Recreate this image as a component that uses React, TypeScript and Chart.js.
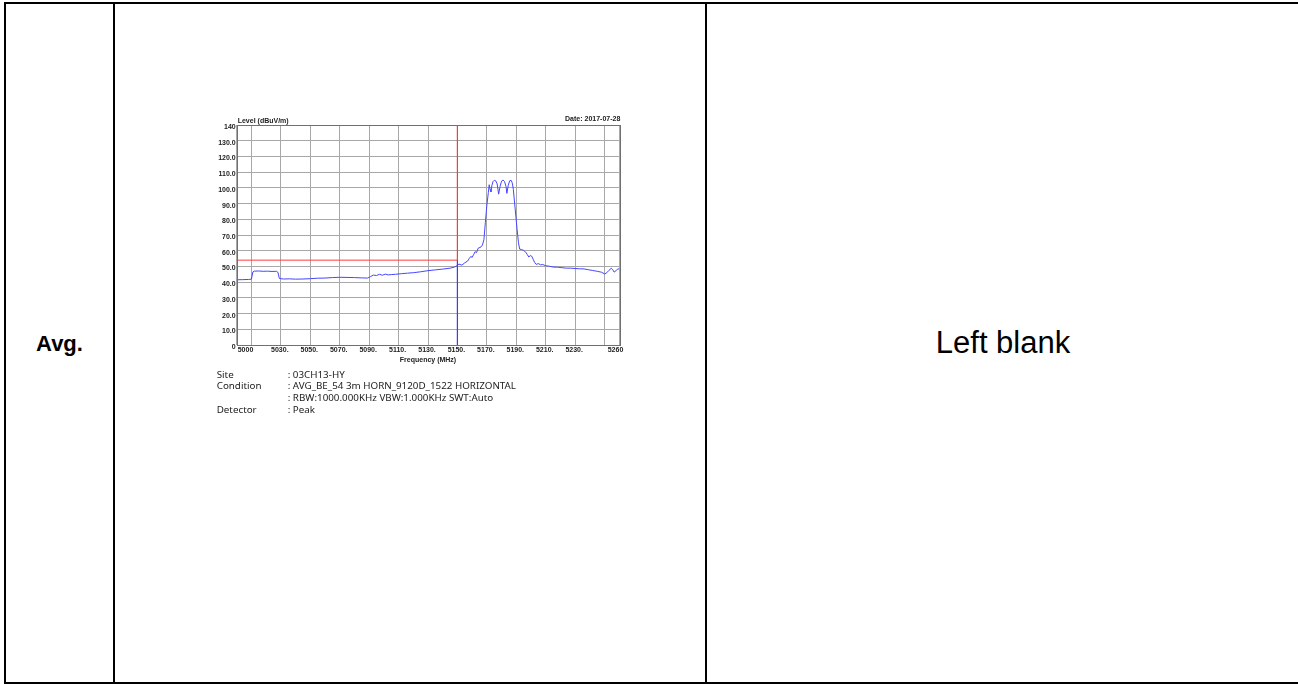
import React, { useEffect, useRef } from "react";
import { Chart, registerables } from "chart.js";

Chart.register(...registerables);

// ---- data ----
const traceFreqs = [
  5000, 5004, 5008, 5010, 5011, 5012, 5015, 5018, 5021, 5024, 5027, 5028, 5029, 5032, 5036, 5040,
  5045, 5050, 5055, 5060, 5065, 5070, 5075, 5080, 5085, 5089, 5091, 5093, 5095, 5097, 5099, 5101,
  5103, 5105, 5108, 5112, 5116, 5120, 5125, 5130, 5135, 5140, 5145, 5148, 5150, 5151, 5153, 5155,
  5157, 5158, 5159, 5160, 5161, 5162, 5163, 5164, 5166, 5167, 5168, 5169, 5170, 5171, 5171.6,
  5172.2, 5172.8, 5173.4, 5174.2, 5175, 5176, 5177, 5178, 5179, 5180, 5181, 5182, 5183, 5183.6,
  5184.5, 5185.5, 5186.5, 5187.3, 5188, 5188.8, 5189.5, 5190.5, 5191.5, 5192.3, 5193.5, 5195,
  5196.5, 5197.5, 5198.5, 5199.5, 5200.5, 5201.5, 5202.5, 5203.5, 5205, 5206.5, 5208, 5210, 5212,
  5215, 5218, 5221, 5224, 5227, 5230, 5233, 5236, 5239, 5242, 5245, 5248, 5250, 5251.5, 5253,
  5254.5, 5255.5, 5256.5, 5258, 5259, 5260,
];
const traceLevels = [
  41.5, 41.6, 41.7, 41.9, 46.5, 47.0, 47.1, 46.9, 47.0, 46.8, 46.9, 46.3, 42.3, 42.0, 42.1, 41.9,
  42.0, 42.2, 42.5, 42.6, 42.9, 43.1, 43.0, 42.9, 42.7, 42.6, 43.6, 44.5, 44.2, 45.0, 44.4, 45.1,
  44.6, 44.8, 45.0, 45.4, 45.7, 46.0, 46.6, 47.3, 47.8, 48.3, 48.9, 49.6, 50.6, 51.5, 50.8, 52.3,
  53.5, 55.0, 56.3, 55.8, 57.5, 59.4, 58.8, 61.5, 62.4, 63.6, 67.0, 78.0, 89.0, 97.0, 102.0,
  99.0, 97.5, 101.5, 104.0, 104.8, 104.5, 102.5, 96.0, 101.0, 104.3, 105.0, 104.0, 101.0, 96.5,
  101.5, 104.5, 104.8, 103.0, 99.0, 91.0, 84.0, 74.0, 65.0, 61.0, 60.8, 60.2,
  59.0, 57.5, 56.0, 56.9, 56.5, 54.5, 52.5, 51.3, 51.8, 51.0, 51.2, 50.4, 50.2,
  49.6, 49.5, 49.2, 48.9, 48.9, 48.7, 48.5, 48.4, 47.9, 47.4, 46.9, 46.3, 45.2, 46.0, 47.5,
  48.8, 48.0, 46.4, 47.4, 48.5, 48.3,
];
const limitLevel = 54;
const limitStart = 5000;
const markerFreq = 5150;
const xMin = 5000;
const xMax = 5260;
const yMin = 0;
const yMax = 140;
const yStep = 10;
const xGridValues = [5000, 5010, 5030, 5050, 5070, 5090, 5110, 5130, 5150, 5170, 5190, 5210, 5230, 5250, 5260];
const xTickValues = [5000, 5030, 5050, 5070, 5090, 5110, 5130, 5150, 5170, 5190, 5210, 5230, 5260];
const xTickLabels = ["5000", "5030.", "5050.", "5070.", "5090.", "5110.", "5130.", "5150.", "5170.", "5190.", "5210.", "5230.", "5260"];
const yAxisTitle = "Level (dBuV/m)";
const xAxisTitle = "Frequency (MHz)";
const dateText = "Date: 2017-07-28";
const infoLabels = ["Site", "Condition", "", "Detector"];
const infoValues = [
  ": 03CH13-HY",
  ": AVG_BE_54 3m HORN_9120D_1522 HORIZONTAL",
  ": RBW:1000.000KHz VBW:1.000KHz SWT:Auto",
  ": Peak",
];
const rowLabel = "Avg.";
const rightCellText = "Left blank";

const textPlugin = {
  id: "textPlugin",
  afterDraw(chart: any) {
    const { ctx, chartArea } = chart;
    const xs = chart.scales.x;
    ctx.save();
    ctx.strokeStyle = "#707070";
    ctx.lineWidth = 1;
    ctx.strokeRect(
      Math.round(chartArea.left) + 0.5,
      Math.round(chartArea.top) + 0.5,
      Math.round(chartArea.right - chartArea.left),
      Math.round(chartArea.bottom - chartArea.top)
    );
    ctx.fillStyle = "#222";
    ctx.font = "bold 7px 'Liberation Sans', Arial, sans-serif";
    ctx.textBaseline = "middle";
    ctx.textAlign = "left";
    ctx.fillText(yAxisTitle, chartArea.left + 1, chartArea.top - 4);
    ctx.textAlign = "right";
    ctx.fillText(dateText, chartArea.right + 1, chartArea.top - 6);
    ctx.textAlign = "center";
    ctx.fillText(xAxisTitle, (chartArea.left + chartArea.right) / 2, chartArea.bottom + 15);
    xTickValues.forEach((v, i) => {
      const px = xs.getPixelForValue(v);
      const y = chartArea.bottom + 5;
      if (i === 0) {
        ctx.textAlign = "left";
        ctx.fillText(xTickLabels[i], px + 1, y);
      } else if (i === xTickValues.length - 1) {
        ctx.textAlign = "right";
        ctx.fillText(xTickLabels[i], px + 4, y);
      } else {
        ctx.textAlign = "center";
        ctx.fillText(xTickLabels[i], px - 1, y);
      }
    });
    ctx.restore();
  },
};

function SpectrumChart() {
  const ref = useRef<HTMLCanvasElement | null>(null);
  useEffect(() => {
    if (!ref.current) return;
    const trace = traceFreqs.map((f, i) => ({ x: f, y: traceLevels[i] }));
    const chart = new Chart(ref.current, {
      type: "scatter",
      data: {
        datasets: [
          {
            data: [
              { x: limitStart, y: limitLevel },
              { x: markerFreq, y: limitLevel },
            ],
            showLine: true,
            borderColor: "#ff3b3b",
            borderWidth: 1,
            pointRadius: 0,
          },
          {
            data: [
              { x: markerFreq, y: yMax },
              { x: markerFreq, y: limitLevel },
            ],
            showLine: true,
            borderColor: "#ff3b3b",
            borderWidth: 1,
            pointRadius: 0,
          },
          {
            data: [
              { x: markerFreq, y: limitLevel },
              { x: markerFreq, y: yMin },
            ],
            showLine: true,
            borderColor: "#3a3aff",
            borderWidth: 1,
            pointRadius: 0,
          },
          {
            data: trace,
            showLine: true,
            borderColor: "#4646ff",
            borderWidth: 1,
            pointRadius: 0,
            tension: 0,
          },
        ],
      },
      options: {
        responsive: false,
        animation: false,
        layout: { padding: { left: 0, right: 10.7, top: 20, bottom: 25 } },
        plugins: { legend: { display: false }, tooltip: { enabled: false } },
        scales: {
          x: {
            type: "linear",
            min: xMin,
            max: xMax,
            afterBuildTicks: (s: any) => {
              s.ticks = xGridValues.map((v) => ({ value: v }));
            },
            afterFit: (s: any) => {
              s.height = 0;
            },
            ticks: { display: false },
            grid: { color: "#a8a8a8", lineWidth: 1, drawTicks: false },
            border: { display: false },
          },
          y: {
            min: yMin,
            max: yMax,
            afterFit: (s: any) => {
              s.width = 46.7;
            },
            ticks: {
              stepSize: yStep,
              padding: 1,
              labelOffset: 2,
              color: "#222",
              font: { size: 7, weight: "bold", family: "'Liberation Sans', Arial, sans-serif" },
              callback: (v: any) => (v === yMax ? String(v) : v === yMin ? "0" : Number(v).toFixed(1)),
            },
            grid: { color: "#a8a8a8", lineWidth: 1, drawTicks: false },
            border: { display: false },
          },
        },
      },
      plugins: [textPlugin],
    } as any);
    return () => chart.destroy();
  }, []);
  return (
    <canvas
      ref={ref}
      width={440}
      height={265}
      style={{ position: "absolute", left: 190, top: 105, width: 440, height: 265 }}
    />
  );
}

export default function App() {
  const line = (s: React.CSSProperties) => (
    <div style={{ position: "absolute", background: "#000", ...s }} />
  );
  const rowCenters = [375, 386, 398, 410];
  const infoStyle: React.CSSProperties = {
    position: "absolute",
    height: 12,
    lineHeight: "12px",
    fontFamily: "'Noto Sans', sans-serif",
    fontSize: 9.8,
    color: "#222",
    whiteSpace: "nowrap",
  };
  return (
    <div
      style={{
        position: "absolute",
        left: 0,
        top: 0,
        width: 1298,
        height: 684,
        overflow: "hidden",
        background: "#fff",
      }}
    >
      {line({ left: 4, top: 2, width: 1300, height: 2 })}
      {line({ left: 4, top: 682, width: 1300, height: 2 })}
      {line({ left: 4, top: 2, width: 2, height: 682 })}
      {line({ left: 113, top: 2, width: 2, height: 682 })}
      {line({ left: 705, top: 2, width: 2, height: 682 })}
      <div
        style={{
          position: "absolute",
          left: 6,
          width: 107,
          top: 331,
          height: 26,
          lineHeight: "26px",
          textAlign: "center",
          fontFamily: "'Liberation Sans', Arial, sans-serif",
          fontWeight: "bold",
          fontSize: 22,
          color: "#000",
        }}
      >
        {rowLabel}
      </div>
      <div
        style={{
          position: "absolute",
          left: 707,
          width: 592,
          top: 325,
          height: 36,
          lineHeight: "36px",
          textAlign: "center",
          fontFamily: "'Liberation Sans', Arial, sans-serif",
          fontSize: 31,
          color: "#000",
        }}
      >
        {rightCellText}
      </div>
      <SpectrumChart />
      {infoValues.map((v, i) => (
        <React.Fragment key={i}>
          <div style={{ ...infoStyle, left: 216.7, top: rowCenters[i] - 6 }}>{infoLabels[i]}</div>
          <div style={{ ...infoStyle, left: 287.7, top: rowCenters[i] - 6 }}>{v}</div>
        </React.Fragment>
      ))}
    </div>
  );
}
